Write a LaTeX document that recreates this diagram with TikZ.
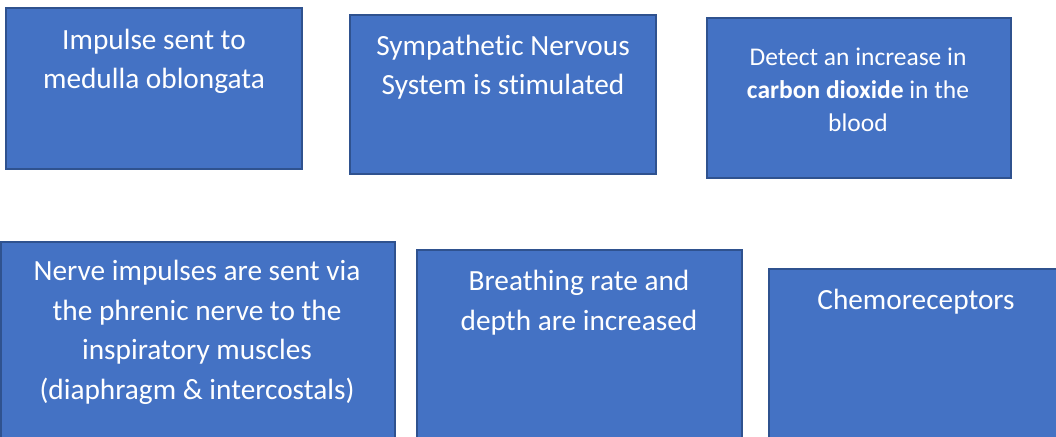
\documentclass[tikz,border=0pt]{standalone}
\usepackage{fontspec}
\setmainfont[Ligatures=CommonOff]{Carlito}
\definecolor{boxfill}{HTML}{4472C4}
\definecolor{boxline}{HTML}{2F528F}
\begin{document}
\begin{tikzpicture}[x=1pt,y=-1pt,
  box/.style={draw=boxline,fill=boxfill,line width=1.5pt,rectangle,inner sep=0pt},
  big/.style={text=white,align=center,font=\fontsize{29.3}{39.5}\selectfont,inner sep=0pt},
  small/.style={text=white,align=center,font=\fontsize{25.5}{33}\selectfont,inner sep=0pt}]
\useasboundingbox (0,0) rectangle (1056,436);
\node[box,minimum width=296pt,minimum height=161pt] (b1) at (154,88.5) {};
\node[box,minimum width=306pt,minimum height=159pt] (b2) at (503,94.5) {};
\node[box,minimum width=304pt,minimum height=160pt] (b3) at (859,98) {};
\node[box,minimum width=394pt,minimum height=200pt] (b4) at (198,342) {};
\node[box,minimum width=325pt,minimum height=192pt] (b5) at (579.5,346) {};
\node[box,minimum width=292pt,minimum height=173pt] (b6) at (915,355.5) {};
\node[big] (t1) at (154,61.5) {Impulse sent to\\medulla oblongata};
\node[big] (t2) at (503,67) {Sympathetic Nervous\\System is stimulated};
\node[small] (t3) at (858,90) {Detect an increase in\\\textbf{carbon dioxide} in the\\blood};
\node[big] (t4) at (197,332.5) {Nerve impulses are sent via\\the phrenic nerve to the\\inspiratory muscles\\(diaphragm \& intercostals)};
\node[big] (t5) at (579,302.5) {Breathing rate and\\depth are increased};
\node[big] (t6) at (916,302) {Chemoreceptors};
\end{tikzpicture}
\end{document}
